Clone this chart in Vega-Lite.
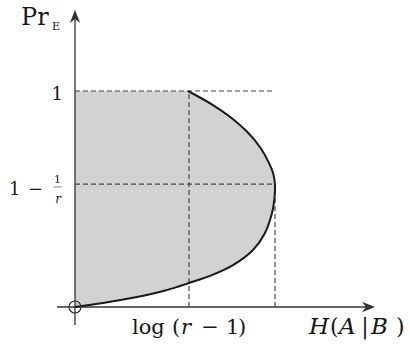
{
  "$schema": "https://vega.github.io/schema/vega-lite/v6.json",
  "width": 410,
  "height": 352,
  "autosize": {"type": "none"},
  "padding": 0,
  "background": "white",
  "data": {"values": [{}]},
  "config": {
    "view": {"stroke": null},
    "axis": {"disable": true},
    "text": {"font": "DejaVu Serif", "color": "#161616", "baseline": "alphabetic", "align": "left"}
  },
  "datasets": {
    "fano": [
      {"h": 0.0, "p": 0.0},
      {"h": 0.14, "p": 0.0185},
      {"h": 0.31, "p": 0.0463},
      {"h": 0.46, "p": 0.0787},
      {"h": 0.57, "p": 0.111},
      {"h": 0.69, "p": 0.15},
      {"h": 0.79, "p": 0.194},
      {"h": 0.89, "p": 0.264},
      {"h": 0.95, "p": 0.343},
      {"h": 0.985, "p": 0.435},
      {"h": 0.997, "p": 0.5},
      {"h": 1.0, "p": 0.565},
      {"h": 0.992, "p": 0.615},
      {"h": 0.971, "p": 0.665},
      {"h": 0.928, "p": 0.736},
      {"h": 0.862, "p": 0.81},
      {"h": 0.776, "p": 0.88},
      {"h": 0.69, "p": 0.935},
      {"h": 0.565, "p": 1.0}
    ]
  },
  "layer": [
    {
      "data": {"name": "fano"},
      "mark": {"type": "area", "orient": "horizontal", "color": "#d2d2d2", "interpolate": "catmull-rom"},
      "encoding": {
        "y": {"field": "p", "type": "quantitative", "scale": {"domain": [-0.2083, 1.4213], "nice": false, "zero": false}},
        "x": {"field": "h", "type": "quantitative", "scale": {"domain": [-0.375, 1.675], "nice": false, "zero": false}},
        "x2": {"datum": 0}
      }
    },
    {
      "mark": {"type": "rule", "strokeDash": [5, 3], "color": "#444", "strokeWidth": 1.2},
      "encoding": {"x": {"datum": 0, "type": "quantitative"}, "x2": {"datum": 1}, "y": {"datum": 1, "type": "quantitative"}}
    },
    {
      "mark": {"type": "rule", "strokeDash": [5, 3], "color": "#444", "strokeWidth": 1.2},
      "encoding": {"x": {"datum": 0, "type": "quantitative"}, "x2": {"datum": 1}, "y": {"datum": 0.569, "type": "quantitative"}}
    },
    {
      "mark": {"type": "rule", "strokeDash": [5, 3], "color": "#444", "strokeWidth": 1.2},
      "encoding": {"x": {"datum": 0.57, "type": "quantitative"}, "y": {"datum": 0, "type": "quantitative"}, "y2": {"datum": 1}}
    },
    {
      "mark": {"type": "rule", "strokeDash": [5, 3], "color": "#444", "strokeWidth": 1.2},
      "encoding": {"x": {"datum": 1, "type": "quantitative"}, "y": {"datum": 0, "type": "quantitative"}, "y2": {"datum": 0.569}}
    },
    {
      "mark": {"type": "rule", "color": "#333", "strokeWidth": 1.3},
      "encoding": {"x": {"datum": -0.09, "type": "quantitative"}, "x2": {"datum": 1.485}, "y": {"datum": 0, "type": "quantitative"}}
    },
    {
      "mark": {"type": "rule", "color": "#333", "strokeWidth": 1.3},
      "encoding": {"x": {"datum": 0, "type": "quantitative"}, "y": {"datum": -0.083, "type": "quantitative"}, "y2": {"datum": 1.36}}
    },
    {
      "data": {"name": "fano"},
      "mark": {"type": "line", "color": "#1a1a1a", "strokeWidth": 2, "interpolate": "catmull-rom"},
      "encoding": {
        "x": {"field": "h", "type": "quantitative"},
        "y": {"field": "p", "type": "quantitative"},
        "order": {"field": "p", "type": "quantitative"}
      }
    },
    {
      "mark": {"type": "point", "shape": "circle", "filled": false, "size": 144, "stroke": "#333", "strokeWidth": 1.2, "opacity": 1},
      "encoding": {"x": {"datum": 0, "type": "quantitative"}, "y": {"datum": 0, "type": "quantitative"}}
    },
    {
      "mark": {"type": "point", "shape": "M0,0L-2,-0.8L-1.4,0L-2,0.8Z", "filled": true, "size": 169, "color": "#333", "opacity": 1},
      "encoding": {"x": {"datum": 1.5, "type": "quantitative"}, "y": {"datum": 0, "type": "quantitative"}}
    },
    {
      "mark": {"type": "point", "shape": "M0,0L-0.8,2L0,1.4L0.8,2Z", "filled": true, "size": 169, "color": "#333", "opacity": 1},
      "encoding": {"x": {"datum": 0, "type": "quantitative"}, "y": {"datum": 1.375, "type": "quantitative"}}
    },
    {
      "mark": {"type": "text", "text": "Pr", "fontSize": 24},
      "encoding": {"x": {"datum": -0.27, "type": "quantitative"}, "y": {"datum": 1.3056, "type": "quantitative"}}
    },
    {
      "mark": {"type": "text", "text": "E", "fontSize": 11},
      "encoding": {"x": {"datum": -0.115, "type": "quantitative"}, "y": {"datum": 1.2824, "type": "quantitative"}}
    },
    {
      "mark": {"type": "text", "text": "1", "fontSize": 18, "align": "right"},
      "encoding": {"x": {"datum": -0.06, "type": "quantitative"}, "y": {"datum": 0.958, "type": "quantitative"}}
    },
    {
      "mark": {"type": "text", "text": "1", "fontSize": 18},
      "encoding": {"x": {"datum": -0.33, "type": "quantitative"}, "y": {"datum": 0.5185, "type": "quantitative"}}
    },
    {
      "mark": {"type": "text", "text": "−", "fontSize": 18, "align": "center"},
      "encoding": {"x": {"datum": -0.1975, "type": "quantitative"}, "y": {"datum": 0.5185, "type": "quantitative"}}
    },
    {
      "mark": {"type": "text", "text": "1", "fontSize": 11, "align": "center"},
      "encoding": {"x": {"datum": -0.0875, "type": "quantitative"}, "y": {"datum": 0.574, "type": "quantitative"}}
    },
    {
      "mark": {"type": "rule", "color": "#555", "strokeWidth": 0.7},
      "encoding": {"x": {"datum": -0.108, "type": "quantitative"}, "x2": {"datum": -0.064}, "y": {"datum": 0.556, "type": "quantitative"}}
    },
    {
      "mark": {"type": "text", "text": "r", "fontSize": 12, "fontStyle": "italic", "align": "center"},
      "encoding": {"x": {"datum": -0.085, "type": "quantitative"}, "y": {"datum": 0.4815, "type": "quantitative"}}
    },
    {
      "mark": {"type": "text", "text": "log", "fontSize": 21},
      "encoding": {"x": {"datum": 0.285, "type": "quantitative"}, "y": {"datum": -0.125, "type": "quantitative"}}
    },
    {
      "mark": {"type": "text", "text": "(", "fontSize": 21},
      "encoding": {"x": {"datum": 0.485, "type": "quantitative"}, "y": {"datum": -0.125, "type": "quantitative"}}
    },
    {
      "mark": {"type": "text", "text": "r", "fontSize": 21, "fontStyle": "italic"},
      "encoding": {"x": {"datum": 0.53, "type": "quantitative"}, "y": {"datum": -0.125, "type": "quantitative"}}
    },
    {
      "mark": {"type": "text", "text": "−", "fontSize": 21, "align": "center"},
      "encoding": {"x": {"datum": 0.675, "type": "quantitative"}, "y": {"datum": -0.125, "type": "quantitative"}}
    },
    {
      "mark": {"type": "text", "text": "1", "fontSize": 21},
      "encoding": {"x": {"datum": 0.755, "type": "quantitative"}, "y": {"datum": -0.125, "type": "quantitative"}}
    },
    {
      "mark": {"type": "text", "text": ")", "fontSize": 21},
      "encoding": {"x": {"datum": 0.815, "type": "quantitative"}, "y": {"datum": -0.125, "type": "quantitative"}}
    },
    {
      "mark": {"type": "text", "text": "H", "fontSize": 23, "fontStyle": "italic"},
      "encoding": {"x": {"datum": 1.17, "type": "quantitative"}, "y": {"datum": -0.125, "type": "quantitative"}}
    },
    {
      "mark": {"type": "text", "text": "(", "fontSize": 22},
      "encoding": {"x": {"datum": 1.275, "type": "quantitative"}, "y": {"datum": -0.125, "type": "quantitative"}}
    },
    {
      "mark": {"type": "text", "text": "A", "fontSize": 23, "fontStyle": "italic"},
      "encoding": {"x": {"datum": 1.32, "type": "quantitative"}, "y": {"datum": -0.125, "type": "quantitative"}}
    },
    {
      "mark": {"type": "text", "text": "|", "fontSize": 22, "align": "center"},
      "encoding": {"x": {"datum": 1.45, "type": "quantitative"}, "y": {"datum": -0.125, "type": "quantitative"}}
    },
    {
      "mark": {"type": "text", "text": "B", "fontSize": 23, "fontStyle": "italic"},
      "encoding": {"x": {"datum": 1.48, "type": "quantitative"}, "y": {"datum": -0.125, "type": "quantitative"}}
    },
    {
      "mark": {"type": "text", "text": ")", "fontSize": 22},
      "encoding": {"x": {"datum": 1.605, "type": "quantitative"}, "y": {"datum": -0.125, "type": "quantitative"}}
    }
  ]
}
